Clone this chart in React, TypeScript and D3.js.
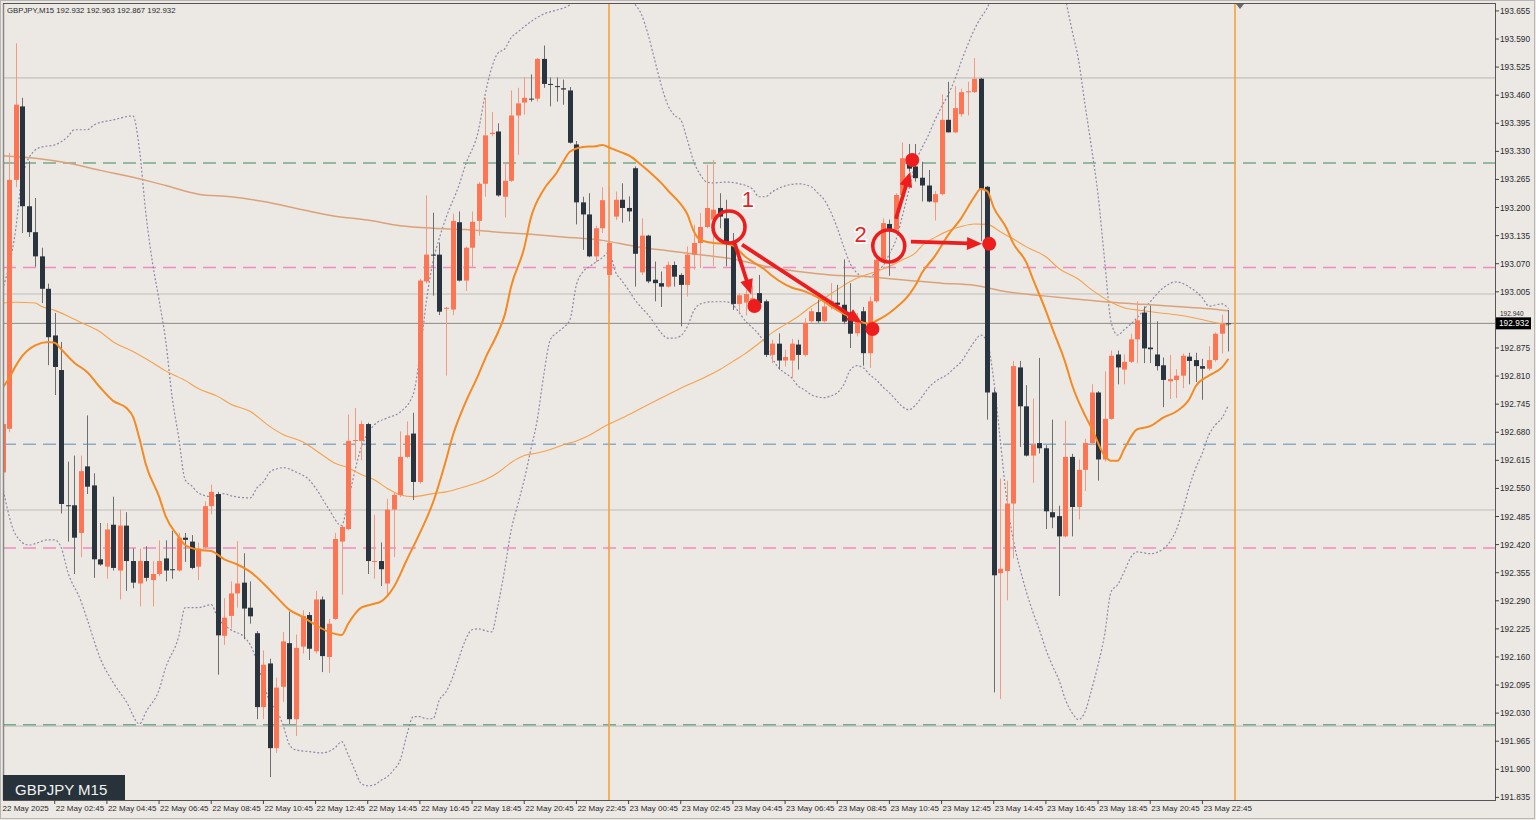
import React from "react";
import * as d3 from "d3";

// GBPJPY M15, 22-23 May 2025
const START = Date.UTC(2025, 4, 22, 0, 0);
const BAR_MS = 15 * 60 * 1000;
const FIRST_BAR = 3;

// [open, high, low, close] from bar 3 (22 May 00:45)
const ohlc: number[][] = [
  [192.587, 192.72, 192.56, 192.699],
  [192.688, 193.327, 192.68, 193.264],
  [193.264, 193.58, 193.247, 193.438],
  [193.434, 193.454, 193.141, 193.203],
  [193.203, 193.307, 193.132, 193.143],
  [193.143, 193.222, 193.063, 193.087],
  [193.087, 193.107, 192.979, 193.012],
  [193.012, 193.024, 192.835, 192.9],
  [192.904, 192.956, 192.766, 192.831],
  [192.824, 192.889, 192.492, 192.514],
  [192.511, 192.612, 192.427, 192.509],
  [192.511, 192.626, 192.352, 192.436],
  [192.447, 192.626, 192.391, 192.59],
  [192.601, 192.719, 192.537, 192.554],
  [192.557, 192.585, 192.343, 192.386],
  [192.386, 192.47, 192.371, 192.374],
  [192.369, 192.47, 192.341, 192.455],
  [192.466, 192.531, 192.36, 192.366],
  [192.36, 192.501, 192.293, 192.464],
  [192.464, 192.495, 192.313, 192.382],
  [192.382, 192.411, 192.319, 192.332],
  [192.33, 192.411, 192.277, 192.382],
  [192.382, 192.416, 192.335, 192.343],
  [192.338, 192.382, 192.277, 192.352],
  [192.352, 192.43, 192.347, 192.382],
  [192.388, 192.43, 192.335, 192.36],
  [192.363, 192.452, 192.341, 192.361],
  [192.36, 192.447, 192.358, 192.436],
  [192.436, 192.447, 192.38, 192.431],
  [192.427, 192.442, 192.363, 192.366],
  [192.369, 192.425, 192.338, 192.411],
  [192.414, 192.52, 192.408, 192.509],
  [192.509, 192.559, 192.49, 192.542],
  [192.537, 192.542, 192.119, 192.21],
  [192.209, 192.296, 192.188, 192.251],
  [192.255, 192.335, 192.226, 192.307],
  [192.307, 192.428, 192.274, 192.33],
  [192.332, 192.4, 192.201, 192.272],
  [192.274, 192.335, 192.237, 192.254],
  [192.215, 192.22, 192.016, 192.044],
  [192.044, 192.175, 192.016, 192.142],
  [192.145, 192.156, 191.882, 191.949],
  [191.949, 192.112, 191.938, 192.089],
  [192.091, 192.218, 192.056, 192.196],
  [192.192, 192.265, 192.005, 192.016],
  [192.016, 192.212, 191.977, 192.181],
  [192.184, 192.268, 192.168, 192.255],
  [192.257, 192.264, 192.153, 192.179],
  [192.173, 192.313, 192.168, 192.293],
  [192.293, 192.3, 192.125, 192.162],
  [192.16, 192.248, 192.123, 192.237],
  [192.248, 192.447, 192.246, 192.433],
  [192.427, 192.464, 192.304, 192.461],
  [192.456, 192.721, 192.453, 192.66],
  [192.66, 192.736, 192.615, 192.662],
  [192.66, 192.707, 192.615, 192.699],
  [192.699, 192.702, 192.352, 192.382],
  [192.38, 192.489, 192.341, 192.382],
  [192.382, 192.425, 192.324, 192.363],
  [192.33, 192.526, 192.302, 192.501],
  [192.501, 192.54, 192.391, 192.535],
  [192.535, 192.682, 192.53, 192.623],
  [192.623, 192.705, 192.62, 192.673],
  [192.677, 192.725, 192.523, 192.565],
  [192.565, 193.035, 192.561, 193.031],
  [193.029, 193.228, 193.024, 193.091],
  [193.091, 193.188, 192.996, 193.089],
  [193.091, 193.119, 192.951, 192.959],
  [192.966, 192.97, 192.811, 192.968],
  [192.964, 193.186, 192.951, 193.169],
  [193.166, 193.191, 193.029, 193.031],
  [193.031, 193.11, 193.007, 193.107],
  [193.107, 193.191, 193.061, 193.167],
  [193.169, 193.259, 193.135, 193.255],
  [193.255, 193.454, 193.225, 193.367],
  [193.37, 193.421, 193.365, 193.373],
  [193.376, 193.395, 193.225, 193.228],
  [193.225, 193.303, 193.177, 193.262],
  [193.262, 193.471, 193.259, 193.413],
  [193.413, 193.477, 193.322, 193.441],
  [193.443, 193.502, 193.415, 193.454],
  [193.452, 193.508, 193.445, 193.451],
  [193.452, 193.546, 193.445, 193.544],
  [193.544, 193.575, 193.477, 193.486],
  [193.486, 193.501, 193.434, 193.484],
  [193.481, 193.501, 193.445, 193.479],
  [193.476, 193.496, 193.438, 193.473],
  [193.471, 193.479, 193.348, 193.35],
  [193.346, 193.354, 193.161, 193.212],
  [193.212, 193.225, 193.102, 193.184],
  [193.184, 193.233, 193.085, 193.087],
  [193.087, 193.158, 193.074, 193.152],
  [193.152, 193.247, 193.141, 193.217],
  [193.044, 193.249, 192.956, 193.118],
  [193.179, 193.237, 193.171, 193.218],
  [193.218, 193.256, 193.165, 193.199],
  [193.199, 193.226, 193.168, 193.191],
  [193.291, 193.295, 193.017, 193.093],
  [193.05, 193.175, 193.044, 193.135],
  [193.135, 193.137, 193.025, 193.029],
  [193.033, 193.075, 192.983, 193.025],
  [193.025, 193.052, 192.97, 193.017],
  [193.017, 193.075, 193.015, 193.067],
  [193.067, 193.075, 193.017, 193.04],
  [193.044, 193.048, 192.925, 193.021],
  [193.021, 193.11, 192.994, 193.091],
  [193.091, 193.16, 193.056, 193.118],
  [193.118, 193.187, 193.06, 193.155],
  [193.155, 193.299, 193.152, 193.199],
  [193.172, 193.31, 193.064, 193.195],
  [193.199, 193.233, 193.152, 193.179],
  [193.175, 193.218, 193.064, 193.118],
  [193.118, 193.141, 192.963, 192.977],
  [192.977, 193.002, 192.956, 192.997],
  [192.98, 193.01, 192.95, 193.0],
  [192.98, 193.02, 192.96, 192.99],
  [193.002, 193.044, 192.975, 192.979],
  [192.983, 192.987, 192.854, 192.859],
  [192.859, 192.894, 192.84, 192.885],
  [192.885, 192.909, 192.825, 192.846],
  [192.846, 192.871, 192.832, 192.854],
  [192.846, 192.896, 192.805, 192.885],
  [192.883, 192.894, 192.825, 192.859],
  [192.859, 192.944, 192.855, 192.933],
  [192.937, 192.967, 192.933, 192.96],
  [192.958, 192.987, 192.933, 192.937],
  [192.937, 192.983, 192.934, 192.971],
  [192.971, 193.025, 192.964, 192.983],
  [192.98, 193.021, 192.967, 192.975],
  [192.975, 193.08, 192.93, 192.936],
  [192.957, 193.025, 192.875, 192.908],
  [192.909, 192.956, 192.902, 192.937],
  [192.96, 192.97, 192.834, 192.863],
  [192.863, 192.994, 192.829, 192.983],
  [192.983, 193.087, 192.98, 193.079],
  [193.079, 193.175, 193.075, 193.164],
  [193.162, 193.172, 193.042, 193.149],
  [193.149, 193.233, 193.145, 193.229],
  [193.229, 193.351, 193.226, 193.314],
  [193.314, 193.347, 193.283, 193.29],
  [193.295, 193.347, 193.26, 193.268],
  [193.269, 193.306, 193.214, 193.251],
  [193.251, 193.287, 193.212, 193.214],
  [193.212, 193.238, 193.17, 193.231],
  [193.231, 193.462, 193.228, 193.403],
  [193.403, 193.491, 193.374, 193.374],
  [193.374, 193.481, 193.372, 193.43],
  [193.416, 193.475, 193.41, 193.467],
  [193.467, 193.491, 193.413, 193.469],
  [193.467, 193.546, 193.465, 193.498],
  [193.498, 193.5, 193.122, 193.243],
  [193.248, 193.25, 192.709, 192.772],
  [192.772, 192.78, 192.078, 192.349],
  [192.354, 192.573, 192.063, 192.364],
  [192.359, 192.568, 192.291, 192.515],
  [192.515, 192.845, 192.388, 192.833],
  [192.83, 192.845, 192.646, 192.74],
  [192.74, 192.789, 192.624, 192.626],
  [192.626, 192.758, 192.563, 192.651],
  [192.655, 192.852, 192.631, 192.643],
  [192.643, 192.65, 192.456, 192.497],
  [192.495, 192.709, 192.458, 192.483],
  [192.486, 192.51, 192.301, 192.439],
  [192.439, 192.707, 192.437, 192.623],
  [192.623, 192.63, 192.439, 192.507],
  [192.507, 192.617, 192.478, 192.593],
  [192.593, 192.665, 192.544, 192.655],
  [192.655, 192.791, 192.65, 192.772],
  [192.772, 192.775, 192.568, 192.617],
  [192.617, 192.821, 192.612, 192.711],
  [192.711, 192.869, 192.709, 192.857],
  [192.86, 192.869, 192.791, 192.83],
  [192.825, 192.86, 192.791, 192.843],
  [192.843, 192.908, 192.84, 192.895],
  [192.895, 192.983, 192.84, 192.939],
  [192.957, 192.971, 192.84, 192.874],
  [192.876, 192.973, 192.84, 192.872],
  [192.86, 192.937, 192.823, 192.833],
  [192.835, 192.853, 192.738, 192.801],
  [192.798, 192.859, 192.757, 192.803],
  [192.801, 192.826, 192.759, 192.811],
  [192.811, 192.862, 192.782, 192.857],
  [192.855, 192.864, 192.791, 192.845],
  [192.847, 192.864, 192.796, 192.833],
  [192.833, 192.85, 192.755, 192.827],
  [192.827, 192.879, 192.823, 192.847],
  [192.847, 192.911, 192.843, 192.908],
  [192.908, 192.952, 192.862, 192.93],
  [192.932, 192.963, 192.867, 192.932],
];

// indicator lines, [bar, price]
const maFast: number[][] = [
  [3, 192.783], [4, 192.805], [5, 192.833], [6, 192.856], [8, 192.881], [10, 192.889], [11, 192.887],
  [12, 192.872], [14, 192.841], [16, 192.819], [18, 192.783], [20, 192.752], [22, 192.736], [23, 192.716],
  [24, 192.665], [25, 192.604], [27, 192.531], [28, 192.486], [30, 192.438], [31, 192.419], [33, 192.408],
  [35, 192.405], [37, 192.386], [39, 192.374], [41, 192.357], [43, 192.33], [45, 192.299], [47, 192.269],
  [49, 192.253], [51, 192.234], [53, 192.218], [55, 192.211], [56, 192.237], [58, 192.274], [60, 192.283],
  [61, 192.288], [63, 192.322], [65, 192.385], [67, 192.447], [69, 192.517], [71, 192.615], [72, 192.67],
  [74, 192.749], [76, 192.814], [77, 192.85], [79, 192.912], [80, 192.951], [81, 193.018], [83, 193.107],
  [84, 193.175], [86, 193.242], [88, 193.281], [89, 193.307], [90, 193.329], [92, 193.34], [94, 193.342],
  [95, 193.345], [96, 193.339], [98, 193.327], [99, 193.321], [101, 193.298], [102, 193.285], [104, 193.257],
  [105, 193.24], [107, 193.208], [108, 193.185], [109, 193.145], [110, 193.125], [112, 193.118], [114, 193.116],
  [115, 193.112], [117, 193.085], [118, 193.075], [120, 193.055], [121, 193.042], [123, 193.022], [124, 193.015],
  [126, 193.006], [128, 192.992], [130, 192.972], [132, 192.954], [134, 192.939], [136, 192.931], [137, 192.938],
  [139, 192.956], [140, 192.968], [142, 192.998], [143, 193.02], [144, 193.049], [146, 193.088], [148, 193.136],
  [150, 193.175], [152, 193.224], [153, 193.243], [154, 193.238], [155, 193.2], [157, 193.151], [158, 193.117],
  [160, 193.073], [161, 193.035], [163, 192.961], [164, 192.92], [166, 192.84], [167, 192.79], [169, 192.719],
  [170, 192.69], [172, 192.626], [173, 192.614], [174, 192.614], [175, 192.641], [177, 192.687], [179, 192.694],
  [181, 192.714], [183, 192.728], [185, 192.757], [186, 192.787], [188, 192.811], [190, 192.83], [191, 192.85],
];

const maMid: number[][] = [
  [3, 192.979], [5, 192.981], [8, 192.979], [9, 192.971], [11, 192.962], [13, 192.949], [15, 192.934],
  [18, 192.912], [20, 192.889], [23, 192.867], [26, 192.841], [28, 192.822], [31, 192.8], [33, 192.781],
  [36, 192.763], [38, 192.745], [41, 192.728], [44, 192.693], [46, 192.675], [49, 192.658], [52, 192.628],
  [54, 192.608], [56, 192.598], [58, 192.582], [60, 192.57], [62, 192.55], [64, 192.535], [66, 192.531],
  [69, 192.538], [71, 192.542], [73, 192.55], [75, 192.559], [77, 192.57], [79, 192.587], [81, 192.61],
  [83, 192.626], [85, 192.632], [87, 192.64], [89, 192.651], [91, 192.66], [93, 192.673], [95, 192.691],
  [98, 192.713], [101, 192.736], [104, 192.759], [107, 192.782], [110, 192.802], [113, 192.825], [115, 192.844],
  [117, 192.863], [119, 192.886], [121, 192.91], [123, 192.929], [125, 192.948], [127, 192.971], [129, 192.99],
  [131, 193.01], [133, 193.029], [135, 193.042], [137, 193.052], [139, 193.064], [141, 193.079], [143, 193.095],
  [144, 193.112], [146, 193.131], [148, 193.146], [150, 193.156], [152, 193.162], [154, 193.161], [156, 193.144],
  [158, 193.127], [160, 193.109], [163, 193.086], [165, 193.059], [168, 193.034], [170, 193.01], [173, 192.981],
  [175, 192.968], [178, 192.961], [180, 192.957], [183, 192.952], [186, 192.944], [188, 192.937], [191, 192.927],
];

const maSlow: number[][] = [
  [3, 193.32], [8, 193.314], [13, 193.303], [18, 193.286], [23, 193.27], [28, 193.251], [33, 193.231],
  [38, 193.225], [43, 193.214], [49, 193.195], [54, 193.18], [59, 193.171], [64, 193.158], [69, 193.152],
  [74, 193.149], [79, 193.143], [84, 193.138], [89, 193.132], [95, 193.124], [100, 193.11], [105, 193.1],
  [110, 193.091], [115, 193.081], [120, 193.064], [125, 193.052], [130, 193.044], [135, 193.041], [140, 193.034],
  [142, 193.031], [147, 193.025], [152, 193.02], [157, 193.005], [163, 192.995], [168, 192.988], [173, 192.981],
  [178, 192.976], [183, 192.971], [188, 192.966], [191, 192.961],
];

const bbUpper: number[][] = [
  [3, 193.01], [5, 193.148], [6, 193.271], [8, 193.333], [9, 193.34], [11, 193.345], [13, 193.364], [14, 193.38],
  [16, 193.38], [17, 193.391], [20, 193.403], [23, 193.412], [24, 193.333], [25, 193.183], [26, 193.072],
  [27, 192.986], [28, 192.894], [29, 192.762], [30, 192.669], [31, 192.57], [32, 192.556], [33, 192.54],
  [35, 192.531], [37, 192.538], [38, 192.533], [41, 192.528], [42, 192.551], [43, 192.565], [44, 192.588],
  [45, 192.595], [46, 192.598], [48, 192.588], [50, 192.57], [51, 192.551], [53, 192.503], [55, 192.464],
  [56, 192.524], [58, 192.644], [60, 192.697], [62, 192.713], [64, 192.727], [66, 192.769], [67, 192.859],
  [68, 192.984], [69, 193.074], [70, 193.13], [71, 193.176], [73, 193.252], [74, 193.299], [76, 193.38],
  [77, 193.461], [78, 193.523], [79, 193.558], [80, 193.567], [81, 193.593], [82, 193.606], [84, 193.63],
  [86, 193.648], [88, 193.657], [90, 193.669], [92, 193.7], [94, 193.72], [96, 193.72], [98, 193.7],
  [100, 193.67], [101, 193.646], [102, 193.6], [103, 193.542], [104, 193.484], [105, 193.438], [106, 193.414],
  [107, 193.403], [108, 193.357], [109, 193.306], [110, 193.276], [111, 193.259], [112, 193.257], [114, 193.259],
  [116, 193.255], [118, 193.243], [119, 193.225], [120, 193.225], [121, 193.236], [123, 193.25], [125, 193.255],
  [127, 193.248], [128, 193.234], [129, 193.218], [130, 193.19], [131, 193.153], [132, 193.109], [133, 193.07],
  [134, 193.049], [135, 193.04], [136, 193.04], [137, 193.051], [138, 193.065], [139, 193.093], [140, 193.125],
  [141, 193.181], [142, 193.241], [143, 193.303], [144, 193.338], [145, 193.368], [146, 193.403], [147, 193.433],
  [148, 193.461], [149, 193.495], [150, 193.537], [151, 193.576], [152, 193.611], [153, 193.639], [154, 193.662],
  [155, 193.7], [156, 193.75], [158, 193.82], [160, 193.86], [162, 193.87], [164, 193.84], [165, 193.78],
  [166, 193.685], [167, 193.611], [168, 193.542], [169, 193.438], [170, 193.338], [171, 193.229], [172, 193.079],
  [173, 192.935], [174, 192.905], [175, 192.917], [177, 192.945], [179, 192.982], [181, 193.014], [183, 193.028],
  [185, 193.016], [187, 192.991], [188, 192.972], [190, 192.977], [191, 192.966],
];

const bbLower: number[][] = [
  [3, 192.554], [5, 192.443], [7, 192.419], [10, 192.431], [11, 192.431], [12, 192.413], [13, 192.357],
  [15, 192.29], [16, 192.246], [18, 192.156], [20, 192.1], [22, 192.056], [24, 192.005], [25, 192.033],
  [27, 192.084], [28, 192.135], [30, 192.207], [31, 192.274], [33, 192.274], [35, 192.281], [36, 192.251],
  [38, 192.223], [40, 192.207], [41, 192.188], [43, 192.1], [44, 192.056], [45, 192.038], [46, 192.003],
  [47, 191.957], [48, 191.945], [50, 191.941], [52, 191.938], [54, 191.95], [55, 191.964], [56, 191.934],
  [57, 191.899], [58, 191.867], [59, 191.862], [60, 191.864], [61, 191.874], [62, 191.883], [63, 191.899],
  [64, 191.922], [65, 191.98], [66, 192.022], [67, 192.022], [68, 192.017], [69, 192.017], [70, 192.061],
  [71, 192.079], [72, 192.112], [73, 192.158], [74, 192.2], [75, 192.223], [76, 192.225], [77, 192.221],
  [78, 192.218], [79, 192.281], [80, 192.362], [81, 192.454], [82, 192.512], [83, 192.57], [84, 192.639],
  [85, 192.709], [86, 192.813], [87, 192.894], [88, 192.91], [89, 192.922], [90, 192.94], [91, 193.021],
  [92, 193.051], [93, 193.063], [94, 193.074], [95, 193.084], [96, 193.097], [97, 193.051], [98, 193.03],
  [99, 193.009], [100, 192.986], [101, 192.968], [102, 192.952], [103, 192.931], [104, 192.91], [105, 192.898],
  [106, 192.898], [107, 192.903], [108, 192.924], [109, 192.961], [110, 192.977], [112, 192.982], [114, 192.982],
  [115, 192.975], [116, 192.956], [117, 192.936], [118, 192.922], [119, 192.906], [120, 192.882], [121, 192.852],
  [122, 192.829], [123, 192.817], [124, 192.806], [125, 192.787], [126, 192.778], [127, 192.767], [128, 192.762],
  [129, 192.76], [130, 192.764], [131, 192.771], [132, 192.79], [133, 192.824], [134, 192.834], [135, 192.829],
  [136, 192.813], [137, 192.801], [138, 192.785], [139, 192.771], [140, 192.755], [141, 192.739], [142, 192.732],
  [143, 192.743], [144, 192.762], [145, 192.783], [146, 192.797], [147, 192.806], [148, 192.815], [149, 192.829],
  [150, 192.843], [151, 192.866], [152, 192.889], [153, 192.905], [154, 192.889], [155, 192.801], [156, 192.662],
  [157, 192.524], [158, 192.431], [159, 192.366], [160, 192.311], [161, 192.264], [162, 192.223], [163, 192.177],
  [164, 192.14], [165, 192.107], [166, 192.061], [167, 192.031], [168, 192.015], [169, 192.033], [170, 192.084],
  [171, 192.142], [172, 192.211], [173, 192.311], [174, 192.327], [175, 192.357], [176, 192.39], [177, 192.403],
  [179, 192.399], [181, 192.41], [182, 192.426], [183, 192.454], [184, 192.5], [185, 192.554], [186, 192.598],
  [187, 192.632], [188, 192.674], [189, 192.697], [190, 192.713], [191, 192.743],
];

const roundLevels = [193.5, 193.0, 192.5, 192.0];
const greenLevels = [193.303, 192.003];
const pinkLevels = [193.061, 192.412];
const blueLevels = [192.652];
const daySeparators = [96, 192];
const priceTicks = d3.range(29).map((k) => +(191.835 + k * 0.065).toFixed(3));
const dateLabelBar = 3;
const timeLabelBars = d3.range(11, 192, 8);
const lastPrice = 192.932;
const header = "GBPJPY,M15  192.932 192.963 192.867 192.932";
const symbolLabel = "GBPJPY M15";

// hand-drawn annotation, [bar, price]
const circles = [[114.4, 193.155], [138.9, 193.111]];
const circleTexts = [{ t: "1", b: 117.3, p: 193.218 }, { t: "2", b: 134.6, p: 193.137 }];
const dots = [[118.3, 192.972], [136.4, 192.919], [142.5, 193.31], [154.3, 193.116]];
const arrows = [
  [[115.3, 193.116], [117.8, 192.999]],
  [[116.4, 193.114], [134.8, 192.933]],
  [[140.0, 193.174], [142.2, 193.283]],
  [[142.3, 193.121], [153.2, 193.116]],
];

const BG = "#ece9e5";
const BULL = "#fd7552";
const BULL_WICK = "#f59a82";
const BEAR = "#2a343e";
const BEAR_WICK = "#6e6e6e";
const RED = "#ee1d1d";
const AX_FONT = "'Liberation Sans', Arial, sans-serif";

const barTime = (b: number) => new Date(START + b * BAR_MS);

const App: React.FC = () => {
  const L = 3, T = 4, R = 1495, B = 800;
  const xs = d3.scaleUtc().domain([barTime(96), barTime(192)]).range([609, 1235]);
  const ys = d3.scaleLinear().domain([191.829, 193.671]).range([B, T]);
  const bx = (b: number) => xs(barTime(b));

  const line = d3
    .line<number[]>()
    .x((d) => bx(d[0]))
    .y((d) => ys(d[1]))
    .curve(d3.curveMonotoneX);

  const fmtDate = d3.utcFormat("%d %b %Y");
  const fmtTime = d3.utcFormat("%d %b %H:%M");

  const arrowPath = (x1: number, y1: number, x2: number, y2: number) => {
    const a = Math.atan2(y2 - y1, x2 - x1);
    const len = 15, w = 13;
    const hx = x2 - len * Math.cos(a), hy = y2 - len * Math.sin(a);
    const nx = (-Math.sin(a) * w) / 2, ny = (Math.cos(a) * w) / 2;
    return {
      shaft: `M${x1},${y1}L${hx + Math.cos(a) * 2},${hy + Math.sin(a) * 2}`,
      head: `M${x2},${y2}L${hx + nx},${hy + ny}L${hx - nx},${hy - ny}Z`,
    };
  };

  const lastY = ys(lastPrice);

  return (
    <svg
      width={1536}
      height={820}
      style={{ position: "absolute", left: 0, top: 0, display: "block" }}
    >
      <defs>
        <clipPath id="plot">
          <rect x={L} y={T} width={R - L} height={B - T} />
        </clipPath>
      </defs>
      <rect x={0} y={0} width={1536} height={820} fill={BG} />
      <rect x={0.5} y={0.5} width={1534} height={818} fill="none" stroke="#b8b5b2" />

      <g clipPath="url(#plot)">
        {roundLevels.map((p) => (
          <line key={"r" + p} x1={L} x2={R} y1={ys(p)} y2={ys(p)} stroke="#cfcbc7" strokeWidth={1.6} />
        ))}
        {greenLevels.map((p) => (
          <line key={"g" + p} x1={L} x2={R} y1={ys(p)} y2={ys(p)} stroke="#78a889" strokeWidth={1.5} strokeDasharray="13 7" />
        ))}
        {pinkLevels.map((p) => (
          <line key={"p" + p} x1={L} x2={R} y1={ys(p)} y2={ys(p)} stroke="#f08cc0" strokeWidth={1.5} strokeDasharray="13 7" />
        ))}
        {blueLevels.map((p) => (
          <line key={"b" + p} x1={L} x2={R} y1={ys(p)} y2={ys(p)} stroke="#8eaac3" strokeWidth={1.5} strokeDasharray="13 7" />
        ))}
        <line x1={L} x2={R} y1={lastY} y2={lastY} stroke="#8a8886" strokeWidth={1} />
        {daySeparators.map((b) => (
          <line key={"d" + b} x1={bx(b)} x2={bx(b)} y1={T} y2={B} stroke="#f5a23a" strokeWidth={1.6} />
        ))}

        <path d={line(bbUpper) ?? ""} fill="none" stroke="#8c88a6" strokeWidth={1.2} strokeDasharray="2 2" />
        <path d={line(bbLower) ?? ""} fill="none" stroke="#8c88a6" strokeWidth={1.2} strokeDasharray="2 2" />
        <path d={line(maSlow) ?? ""} fill="none" stroke="#dba27a" strokeWidth={1.5} />
        <path d={line(maMid) ?? ""} fill="none" stroke="#f6a14c" strokeWidth={1.1} />

        {ohlc.map((c, k) => {
          const b = FIRST_BAR + k;
          const [o, h, l, cl] = c;
          const x = Math.round(bx(b));
          const up = cl > o;
          const top = ys(Math.max(o, cl));
          const bot = ys(Math.min(o, cl));
          return (
            <g key={b}>
              <line x1={x + 0.5} x2={x + 0.5} y1={ys(h)} y2={ys(l)} stroke={up ? BULL_WICK : BEAR_WICK} strokeWidth={1} />
              <rect x={x - 2} y={top} width={5} height={Math.max(1, bot - top)} fill={up ? BULL : BEAR} />
            </g>
          );
        })}

        <path d={line(maFast) ?? ""} fill="none" stroke="#f58a22" strokeWidth={2} />
      </g>

      {/* annotation */}
      <g>
        {arrows.map((a, k) => {
          const p = arrowPath(bx(a[0][0]), ys(a[0][1]), bx(a[1][0]), ys(a[1][1]));
          return (
            <g key={"a" + k}>
              <path d={p.shaft} stroke={RED} strokeWidth={3.8} fill="none" />
              <path d={p.head} fill={RED} />
            </g>
          );
        })}
        {circles.map((c, k) => (
          <circle key={"c" + k} cx={bx(c[0])} cy={ys(c[1])} r={16} fill="none" stroke={RED} strokeWidth={3.6} />
        ))}
        {dots.map((d, k) => (
          <circle key={"o" + k} cx={bx(d[0])} cy={ys(d[1])} r={7} fill={RED} />
        ))}
        {circleTexts.map((t) => (
          <text
            key={t.t}
            x={bx(t.b)}
            y={ys(t.p)}
            fill={RED}
            stroke="#ffffff"
            strokeWidth={3}
            paintOrder="stroke"
            fontFamily="'Liberation Sans', Arial, sans-serif"
            fontSize={22}
            textAnchor="middle"
            dominantBaseline="central"
          >
            {t.t}
          </text>
        ))}
      </g>

      {/* frame */}
      <rect x={L + 0.5} y={T - 0.5} width={R - L} height={B - T + 1} fill="none" stroke="#565656" strokeWidth={1} />
      <line x1={L + 0.5} x2={L + 0.5} y1={T} y2={B} stroke="#888" strokeWidth={1.5} />
      <path d={`M1236,4L1244,4L1240,9Z`} fill="#6a6a6a" />

      {/* price axis */}
      {priceTicks.map((p) => {
        const ty = ys(p);
        const covered = Math.abs(ty - lastY) < 9;
        return (
          <g key={"t" + p}>
            <line x1={R} x2={R + 4} y1={ty} y2={ty} stroke="#444" />
            <text
              x={R + 5}
              y={covered ? lastY - 7 : ty + 3}
              fontFamily={AX_FONT}
              fontSize={covered ? 6.5 : 8.3}
              fill="#2a2a2a"
            >
              {p.toFixed(3)}
            </text>
          </g>
        );
      })}
      <rect x={R + 1} y={lastY - 6} width={35} height={12} fill="#000" />
      <text x={R + 4} y={lastY + 3} fontFamily={AX_FONT} fontSize={8.3} fill="#fff">
        {lastPrice.toFixed(3)}
      </text>

      {/* time axis */}
      <text x={bx(dateLabelBar)} y={811} fontFamily={AX_FONT} fontSize={8} fill="#2a2a2a">
        {fmtDate(barTime(dateLabelBar))}
      </text>
      {timeLabelBars.map((b) => (
        <g key={"x" + b}>
          <line x1={bx(b)} x2={bx(b)} y1={B} y2={B + 4} stroke="#444" />
          <text x={bx(b) + 1} y={811} fontFamily={AX_FONT} fontSize={8} fill="#2a2a2a">
            {fmtTime(barTime(b))}
          </text>
        </g>
      ))}

      {/* header and symbol tag */}
      <text x={7} y={13} fontFamily={AX_FONT} fontSize={7.8} fill="#2a2a2a">
        {header}
      </text>
      <rect x={3} y={775} width={122} height={25} fill="#27323b" />
      <text x={15} y={795} fontFamily={AX_FONT} fontSize={15} fill="#f2f2f2">
        {symbolLabel}
      </text>
    </svg>
  );
};

export default App;
